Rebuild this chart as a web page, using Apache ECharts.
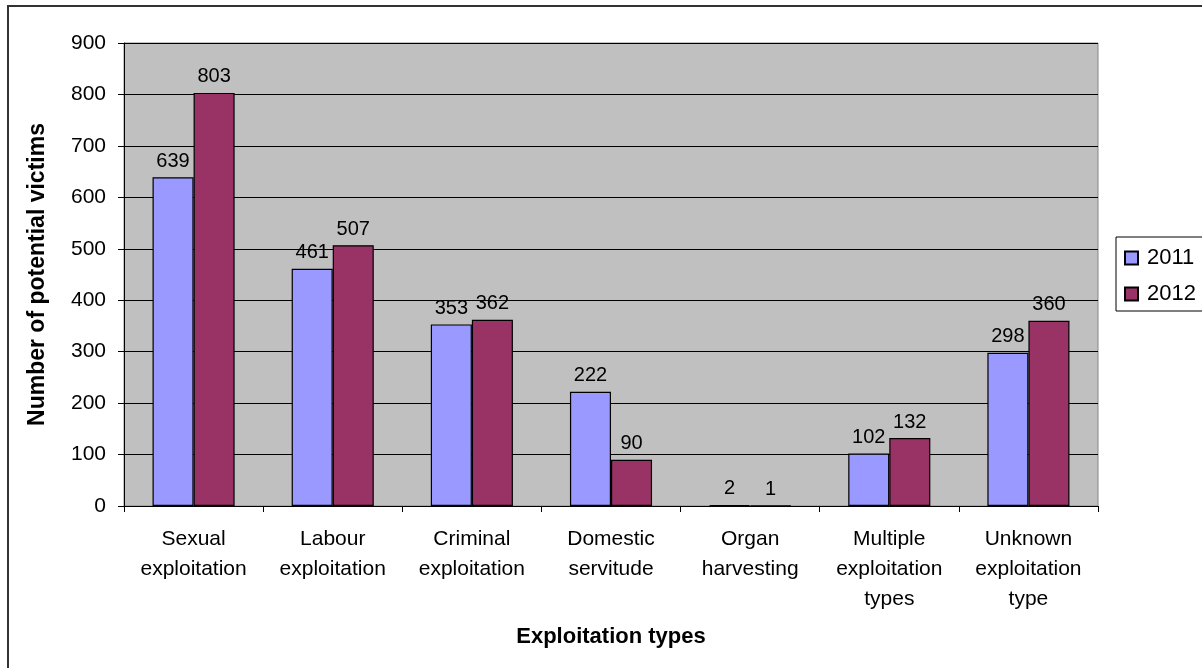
<!DOCTYPE html>
<html><head><meta charset="utf-8">
<script src="https://cdn.jsdelivr.net/npm/echarts@6/dist/echarts.min.js"></script>
<style>html,body{margin:0;padding:0;background:#fff}#c{width:1202px;height:668px}</style>
</head><body><div id="c"></div>
<script>
const categories = ["Sexual\nexploitation","Labour\nexploitation","Criminal\nexploitation","Domestic\nservitude","Organ\nharvesting","Multiple\nexploitation\ntypes","Unknown\nexploitation\ntype"];
const seriesNames = ["2011","2012"];
const values2011 = [639,461,353,222,2,102,298];
const values2012 = [803,507,362,90,1,132,360];
const yTicks = {min:0,max:900,interval:100};

const font = "'Liberation Sans', Arial, sans-serif";
const chart = echarts.init(document.getElementById('c'));
const barSeries = (name, data, color) => ({
  name, type:'bar', data, barGap:'0%', barCategoryGap:'41%',
  itemStyle:{color, borderColor:'#000', borderWidth:1.2},
  label:{show:true, position:'top', distance:6, color:'#000', fontFamily:font, fontSize:20},
  emphasis:{disabled:true}
});
chart.setOption({
  animation:false,
  backgroundColor:'#fff',
  graphic:[{type:'rect', shape:{x:8, y:6, width:1300, height:700}, style:{fill:'none', stroke:'#333', lineWidth:2}, silent:true}],
  grid:{left:124, top:43, right:104, bottom:162, show:true, backgroundColor:'#c0c0c0', borderColor:'#888', borderWidth:1},
  legend:{orient:'vertical', left:1116, top:237, padding:[10,30,6,8], itemGap:14,
    itemWidth:13, itemHeight:13, icon:'rect', borderColor:'#000', borderWidth:1,
    textStyle:{fontFamily:font, fontSize:22, lineHeight:22, color:'#000', padding:[0,0,0,4]},
    data:seriesNames},
  xAxis:{type:'category', data:categories,
    name:'Exploitation types', nameLocation:'middle', nameGap:120,
    nameTextStyle:{fontFamily:font, fontSize:22, fontWeight:'bold', color:'#000'},
    axisLine:{lineStyle:{color:'#000', width:1}},
    axisTick:{show:true, length:6, alignWithLabel:false, lineStyle:{color:'#000'}},
    axisLabel:{interval:0, margin:18, fontFamily:font, fontSize:21, lineHeight:30, color:'#000'},
    splitLine:{show:false}},
  yAxis:{type:'value', min:yTicks.min, max:yTicks.max, interval:yTicks.interval,
    name:'Number of potential victims', nameLocation:'middle', nameGap:75, nameRotate:90,
    nameTextStyle:{fontFamily:font, fontSize:23, fontWeight:'bold', color:'#000'},
    axisLine:{show:true, lineStyle:{color:'#000', width:1}},
    axisTick:{show:true, length:6, lineStyle:{color:'#000'}},
    axisLabel:{margin:18, fontFamily:font, fontSize:21, color:'#000'},
    splitLine:{show:true, lineStyle:{color:'#000', width:1}}},
  series:[barSeries(seriesNames[0], values2011, '#9999ff'), barSeries(seriesNames[1], values2012, '#993366')]
});
</script></body></html>
